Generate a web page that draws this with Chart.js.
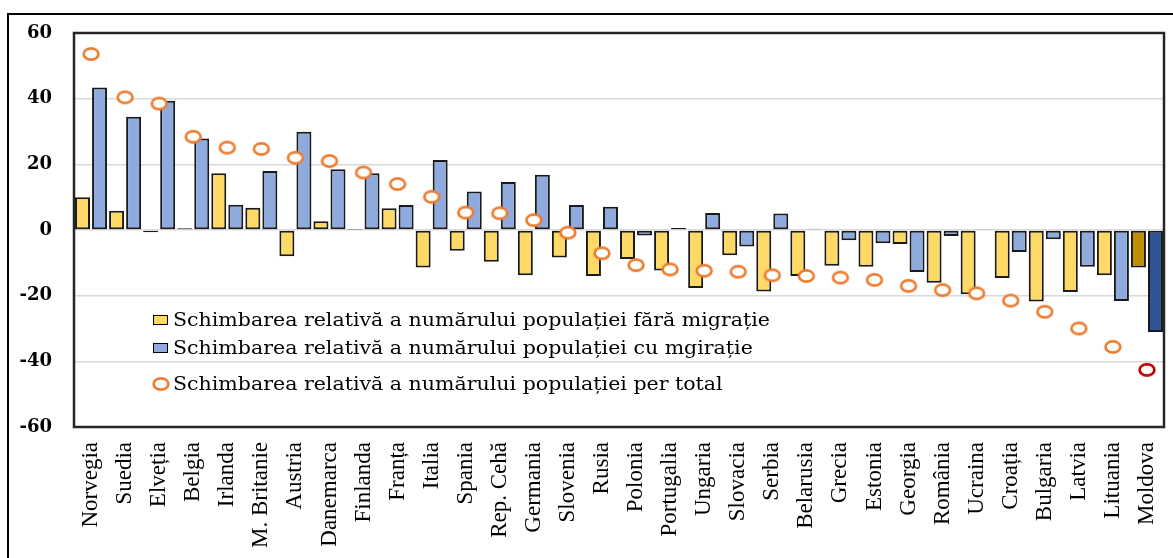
<!DOCTYPE html>
<html lang="ro">
<head>
<meta charset="utf-8">
<title>Schimbarea relativă a numărului populației</title>
<script src="https://cdn.jsdelivr.net/npm/chart.js@4/dist/chart.umd.min.js"></script>
<style>
  html, body { margin: 0; padding: 0; background: #fff; }
  #wrap { position: relative; width: 1173px; height: 558px; overflow: hidden; }
  #frame { position: absolute; left: 7px; top: 13px; right: -10px; bottom: -10px;
           border-left: 2px solid #000; border-top: 2px solid #000; }
  #c { position: absolute; left: 0; top: 0; }
  #legend { position: absolute; left: 0; top: 0; font-family: 'DejaVu Serif', serif;
            font-size: 18.5px; color: #000; }
  .item { position: absolute; left: 153px; height: 20px; line-height: 20px; white-space: nowrap; }
  .item .txt { position: absolute; left: 20px; top: 0; transform-origin: 0 50%; }
  .sq { position: absolute; left: 0; top: 5px; width: 13px; height: 8px; border: 1px solid #000; }
  .ringmk { position: absolute; left: -2px; top: 2px; }
</style>
</head>
<body>
<div id="wrap">
  <div id="frame"></div>
  <canvas id="c" width="1173" height="558"></canvas>
  <div id="legend"></div>
</div>
<script>
// Countries, ordered by total relative change of population
const categories = [
  'Norvegia', 'Suedia', 'Elveția', 'Belgia', 'Irlanda', 'M. Britanie', 'Austria',
  'Danemarca', 'Finlanda', 'Franța', 'Italia', 'Spania', 'Rep. Cehă', 'Germania',
  'Slovenia', 'Rusia', 'Polonia', 'Portugalia', 'Ungaria', 'Slovacia', 'Serbia',
  'Belarusia', 'Grecia', 'Estonia', 'Georgia', 'România', 'Ucraina', 'Croația',
  'Bulgaria', 'Latvia', 'Lituania', 'Moldova'
];

// Relative change without migration (%)
const withoutMigration = [
  10.0, 5.9, -0.7, 0.5, 17.3, 6.8, -8.0, 2.7, 0.1, 6.6, -11.4,
  -6.3, -9.7, -13.8, -8.4, -14.0, -8.8, -12.3, -17.7, -7.7, -18.7,
  -14.0, -10.9, -11.2, -4.3, -16.1, -19.6, -14.6, -21.8, -18.9, -13.8, -11.4
];

// Relative change with migration (%)
const withMigration = [
  43.4, 34.5, 39.4, 27.9, 7.7, 18.0, 29.9, 18.5, 17.3, 7.6, 21.3,
  11.7, 14.6, 16.8, 7.6, 7.1, -1.7, 0.6, 5.2, -5.0, 5.0,
  0.4, -3.1, -4.0, -12.8, -1.8, 0.3, -6.7, -2.8, -11.2, -21.6, -31.1
];

// Total relative change (%)
const totalChange = [
  53.6, 40.4, 38.5, 28.4, 25.1, 24.7, 22.0, 21.0, 17.5, 14.0, 10.1,
  5.3, 5.1, 3.0, -0.8, -7.1, -10.7, -12.0, -12.4, -12.7, -13.8,
  -14.0, -14.5, -15.2, -17.0, -18.3, -19.3, -21.5, -24.9, -30.0, -35.6, -42.6
];

const yTicks = [-60, -40, -20, 0, 20, 40, 60];

const seriesNames = [
  'Schimbarea relativă a numărului populației fără migrație',
  'Schimbarea relativă a numărului populației cu mgirație',
  'Schimbarea relativă a numărului populației per total'
];

const highlighted = 'Moldova';

const COLORS = {
  yellow: '#FFD966', yellowDark: '#BF9000',
  blue: '#8FAADC', blueDark: '#2F5597',
  ring: '#ED7D31', ringDark: '#C00000',
  outline: '#1a1a1a', grid: '#d9d9d9'
};

// Slightly flattened ring used as the point marker
function makeRing(color) {
  const cv = document.createElement('canvas');
  cv.width = 20; cv.height = 16;
  const g = cv.getContext('2d');
  g.beginPath();
  g.ellipse(10, 8, 7.4, 5.7, 0, 0, Math.PI * 2);
  g.fillStyle = '#fff';
  g.fill();
  g.lineWidth = 2.7;
  g.strokeStyle = color;
  g.stroke();
  return cv;
}
const ringNormal = makeRing(COLORS.ring);
const ringHighlight = makeRing(COLORS.ringDark);

// Dark border around the plot area
const plotFrame = {
  id: 'plotFrame',
  afterDatasetsDraw(chart) {
    const { ctx, chartArea: a } = chart;
    ctx.save();
    ctx.strokeStyle = '#262626';
    ctx.lineWidth = 2.5;
    ctx.strokeRect(a.left, a.top, a.right - a.left, a.bottom - a.top);
    ctx.restore();
  }
};

const isHi = (i) => categories[i] === highlighted;

const chart = new Chart(document.getElementById('c'), {
  data: {
    labels: categories,
    datasets: [
      {
        type: 'bar',
        label: seriesNames[0],
        data: withoutMigration,
        backgroundColor: categories.map((c, i) => isHi(i) ? COLORS.yellowDark : COLORS.yellow),
        borderColor: COLORS.outline,
        borderWidth: 2,
        borderSkipped: false,
        categoryPercentage: 1,
        barPercentage: 0.88
      },
      {
        type: 'bar',
        label: seriesNames[1],
        data: withMigration,
        backgroundColor: categories.map((c, i) => isHi(i) ? COLORS.blueDark : COLORS.blue),
        borderColor: COLORS.outline,
        borderWidth: 2,
        borderSkipped: false,
        categoryPercentage: 1,
        barPercentage: 0.88
      },
      {
        type: 'line',
        label: seriesNames[2],
        data: totalChange,
        showLine: false,
        order: -1,
        pointRadius: 8,
        pointHoverRadius: 8,
        pointStyle: (ctx) => isHi(ctx.dataIndex) ? ringHighlight : ringNormal
      }
    ]
  },
  options: {
    responsive: false,
    animation: false,
    devicePixelRatio: 1,
    layout: { padding: { top: 33, right: 5, left: 0, bottom: 0 } },
    plugins: { legend: { display: false }, tooltip: { enabled: false } },
    scales: {
      x: {
        grid: { display: false, drawTicks: false },
        border: { display: false },
        ticks: {
          autoSkip: false, minRotation: 90, maxRotation: 90, padding: 15,
          color: '#000', font: { family: 'Liberation Serif', size: 23 }
        },
        afterFit(s) {
          s.height = 131;
          s.paddingLeft = 0;
          s.paddingRight = 0;
        }
      },
      y: {
        min: yTicks[0], max: yTicks[yTicks.length - 1],
        afterBuildTicks(s) { s.ticks = yTicks.map(v => ({ value: v })); },
        ticks: {
          padding: 22, color: '#000',
          font: { family: 'DejaVu Serif', size: 18, weight: 'bold' }
        },
        grid: {
          drawTicks: false,
          lineWidth: 1.5,
          color: (c) => Math.abs(c.tick.value) === 60 ? 'rgba(0,0,0,0)' : COLORS.grid
        },
        border: { display: false },
        afterFit(s) {
          s.width = 74;
          s.paddingTop = 0;
          s.paddingBottom = 0;
        }
      }
    }
  },
  plugins: [plotFrame]
});

// Legend placed inside the plot area
const legendRows = [
  { top: 310, marker: 'sq', color: COLORS.yellow },
  { top: 337.5, marker: 'sq', color: COLORS.blue },
  { top: 374, marker: 'ring' }
];
const legendTextWidth = 597;
const legend = document.getElementById('legend');
const texts = [];
legendRows.forEach((row, i) => {
  const item = document.createElement('div');
  item.className = 'item';
  item.style.top = row.top + 'px';
  let mk;
  if (row.marker === 'ring') {
    mk = document.createElement('canvas');
    mk.width = ringNormal.width;
    mk.height = ringNormal.height;
    mk.className = 'ringmk';
    mk.getContext('2d').drawImage(ringNormal, 0, 0);
  } else {
    mk = document.createElement('div');
    mk.className = 'sq';
    mk.style.background = row.color;
  }
  const txt = document.createElement('span');
  txt.className = 'txt';
  txt.textContent = chart.data.datasets[i].label;
  item.appendChild(mk);
  item.appendChild(txt);
  legend.appendChild(item);
  texts.push(txt);
});
// Stretch the legend text horizontally to the width of the first row
const stretch = legendTextWidth / texts[0].getBoundingClientRect().width;
texts.forEach(t => { t.style.transform = 'scaleX(' + stretch + ')'; });
</script>
</body>
</html>
